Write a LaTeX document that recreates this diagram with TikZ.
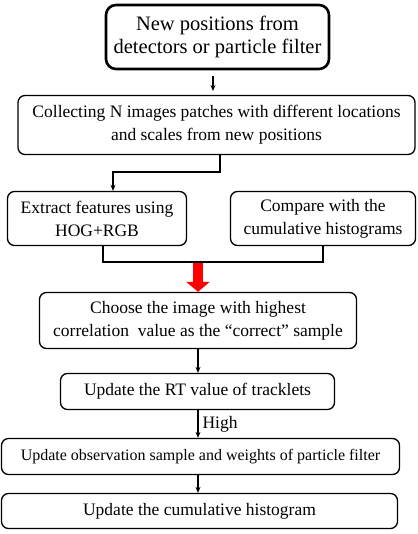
\documentclass[tikz,border=0pt]{standalone}
\usepackage{fontspec}
\setmainfont{Liberation Serif}
\usepackage{xcolor}
\usetikzlibrary{arrows.meta,
positioning,
calc}

\begin{document}
\begin{tikzpicture}[
x=1pt, y=-1pt,
every node/.style={
align=center,
font=\fontsize{17.5}{23}\selectfont
},
box/.style={
draw,
line width=1.3pt,
rounded corners=7pt,
inner sep=0pt
},
>={Stealth[length=6pt,width=5pt]}
]
\useasboundingbox (0,0) rectangle (417,534);

\node[box, line width=2.6pt, rounded corners=10pt, minimum width=223pt, minimum height=64pt,
  font=\fontsize{20.5}{22.5}\selectfont] (positions) at (217.5,37) {New positions from\\detectors or particle filter};
\node[box, minimum width=397pt, minimum height=59pt] (collecting) at (216.5,125) {Collecting N images patches with different locations\\and scales from new positions};
\node[box, minimum width=179pt, minimum height=54pt] (extract) at (97,218.5) {Extract features using\\HOG+RGB};
\node[box, minimum width=185pt, minimum height=54pt] (compare) at (323,218.5) {Compare with the\\cumulative histograms};
\node[box, minimum width=317pt, minimum height=56pt] (choose) at (198,320.5) {Choose the image with highest\\correlation\ \ value as the ``correct'' sample};
\node[box, minimum width=274pt, minimum height=36pt] (tracklets) at (197.5,391.5) {Update the RT value of tracklets};
\node[box, minimum width=398pt, minimum height=36pt,
  font=\fontsize{16}{20}\selectfont] (observation) at (200.5,456.5) {Update observation sample and weights of particle filter};
\node[box, minimum width=396pt, minimum height=35pt] (histogram) at (199.5,511) {Update the cumulative histogram};

\draw[->, line width=1.2pt] (213,76) -- (213,91);
\draw[->, line width=1.2pt] (collecting.south -| 220,0) |- (113,172) -- (extract.north -| 113,0);
\draw[line width=1.3pt] (extract.south -| 103,0) |- (323,262) -- (compare.south -| 323,0);
\draw[red, line width=10pt, -{Triangle[length=10pt,width=23pt]}] (198,262.6) -- (choose.north -| 198,0);
\draw[->, line width=1.2pt] (choose.south -| 198,0) -- (tracklets.north -| 198,0);
\draw[->, line width=1.2pt] (tracklets.south -| 198,0) -- node[right, inner sep=4pt] {High} (observation.north -| 198,0);
\draw[->, line width=1.2pt] (observation.south -| 198,0) -- (histogram.north -| 198,0);

\end{tikzpicture}
\end{document}
